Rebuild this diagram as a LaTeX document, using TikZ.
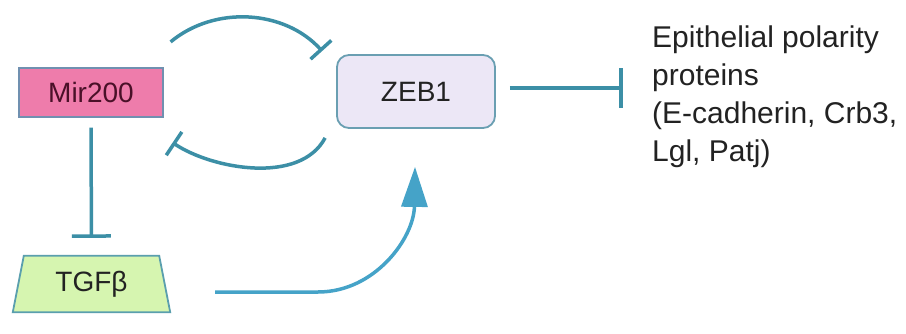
\documentclass[tikz,border=0pt]{standalone}
\usepackage{fontspec}
\setmainfont{Liberation Sans}
\usetikzlibrary{arrows.meta,calc}
\definecolor{inhib}{HTML}{3C8FA6}
\definecolor{actv}{HTML}{45A3C8}
\definecolor{mirfill}{HTML}{EE7CAB}
\definecolor{mirtext}{HTML}{4A1028}
\definecolor{mirdraw}{HTML}{7090B0}
\definecolor{zebfill}{HTML}{ECE7F6}
\definecolor{zebdraw}{HTML}{6A9FB2}
\definecolor{tgffill}{HTML}{D6F5B0}
\definecolor{tgfdraw}{HTML}{5A9FAE}
\definecolor{txt}{HTML}{222222}
\begin{document}
\begin{tikzpicture}[x=1pt,y=1pt,
  lbl/.style={font=\fontsize{28}{32}\selectfont, text=txt},
  inh/.style={draw=inhib, line width=3.5pt},
  act/.style={draw=actv, line width=3.5pt}]
\useasboundingbox (0,0) rectangle (906,333);
\fill[white] (0,0) rectangle (906,333);
% nodes
\node[lbl, text=mirtext, fill=mirfill, draw=mirdraw, line width=1.2pt,
      minimum width=144pt, minimum height=49pt, inner sep=0pt] (mir) at (91,240.5) {Mir200};
\node[lbl, fill=zebfill, draw=zebdraw, line width=1.8pt, rounded corners=12pt,
      minimum width=158pt, minimum height=73pt, inner sep=0pt] (zeb) at (416,241.5) {ZEB1};
\node[lbl, minimum width=157pt, minimum height=56pt, inner sep=0pt] (tgf) at (91.5,49) {};
\draw[fill=tgffill, draw=tgfdraw, line width=1.8pt]
  (tgf.south west) -- ($(tgf.north west)+(11,0)$) -- ($(tgf.north east)+(-11,0)$) -- (tgf.south east) -- cycle;
\node[lbl] at (tgf.center) {TGFβ};
\node[font=\fontsize{30}{38}\selectfont, text=txt, align=left, anchor=north west, inner sep=0pt]
  (epi) at (652,307) {Epithelial polarity\\proteins\\(E-cadherin, Crb3,\\Lgl, Patj)};
% connectors
\draw[inh, -{Bar[width=28pt, line width=3.5pt]}]
  ($(mir.north east)+(7,25.5)$) .. controls (215,328) and (285,323) .. ($(zeb.north west)+(-14,3)$);
\draw[inh, -{Bar[width=28pt, line width=3.5pt]}]
  ($(zeb.south west)+(-11,-9)$) .. controls (300,148) and (212,164) .. ($(mir.south east)+(9,-25)$);
\draw[inh, shorten <=10pt, shorten >=18pt, -{Bar[width=39pt, line width=3.5pt]}]
  (mir.south) -- (tgf.north);
\draw[inh, shorten <=14pt, -{Bar[width=40pt, line width=3.5pt]}]
  ($(zeb.east)+(0,3.5)$) -- ($(zeb.east)+(127,3.5)$);
\draw[act, -{Triangle[length=40pt, width=26pt]}]
  ($(tgf.east)+(45,-8)$) -- (318,41) .. controls (375,41) and (414,95) .. ($(zeb.south)+(-1,-38)$);
\end{tikzpicture}
\end{document}
